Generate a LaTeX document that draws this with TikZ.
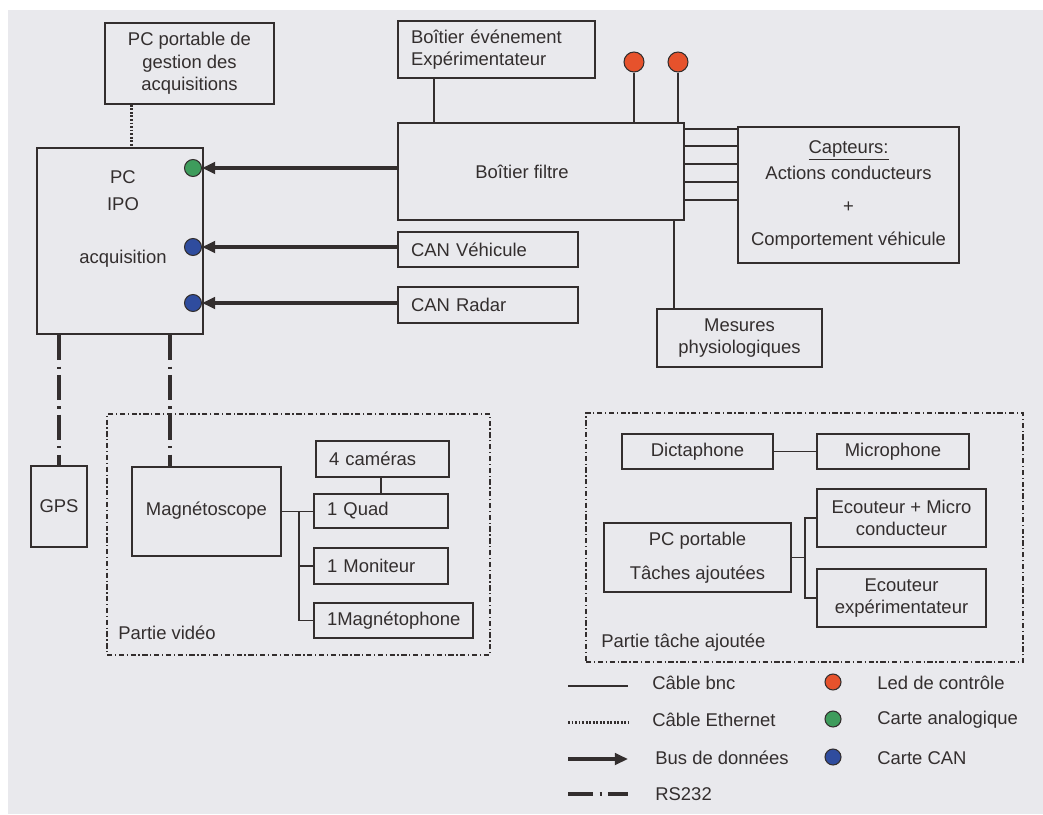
\documentclass[tikz,border=0pt]{standalone}
\usepackage{fontspec}
\setmainfont{Liberation Sans}
\usepackage{tikz}
\usetikzlibrary{arrows.meta,calc}

\definecolor{ink}{HTML}{332E2E}
\definecolor{paper}{HTML}{E9E9ED}
\definecolor{ledred}{HTML}{E6522C}
\definecolor{ledgreen}{HTML}{3E9C5C}
\definecolor{ledblue}{HTML}{2F4C9E}

\tikzset{
    box/.style={draw=ink, line width=1.1pt, align=center, text=ink, inner sep=0pt,
        font=\fontsize{10.5}{12.7}\selectfont},
    lbox/.style={box, align=left, inner xsep=0.26cm},
    txt/.style={text=ink, inner sep=0pt, font=\fontsize{10.5}{12.7}\selectfont},
    led/.style={circle, draw=ink, line width=0.6pt, minimum size=0.34cm, inner sep=0pt},
    bnc/.style={draw=ink, line width=1.1pt},
    eth/.style={draw=ink, line width=1.7pt, dash pattern=on 1.1pt off 0.9pt},
    bus/.style={draw=ink, line width=2.3pt, -{Triangle[length=7.5pt, width=6.5pt]}},
    rs/.style={draw=ink, line width=1.9pt, dash pattern=on 14.5pt off 3.5pt on 1.2pt off 3.5pt},
    frame/.style={draw=ink, line width=0.7pt, dash pattern=on 3pt off 1.5pt on 0.7pt off 1.5pt}
}

\begin{document}
\begin{tikzpicture}[x=0.02cm, y=-0.02cm]
                \fill[white] (0, 0) rectangle (1043, 814);
                \fill[paper] (8, 10) rectangle (1043, 814);
                \useasboundingbox (0, 0) rectangle (1043, 814);

                % acquisition
                \node[box, minimum width=3.38cm, minimum height=1.62cm] (A1) at (189.5, 63.5) {PC portable de\\gestion des\\acquisitions};
                \node[box, minimum width=3.32cm, minimum height=3.72cm] (A2) at (120, 241) {};
                \node[txt, align=center, font=\fontsize{10.5}{15.3}\selectfont] (A2t) at (123, 219) {PC\\IPO\\[15.3pt]acquisition};
                \node[lbox, text width=3.42cm, minimum height=1.14cm] (A3) at (496.5, 49.5) {Boîtier événement\\Expérimentateur};
                \node[box, minimum width=5.72cm, minimum height=1.94cm] (A4) at (541, 171.5) {Boîtier filtre\hspace*{0.76cm}};
                \node[box, minimum width=4.42cm, minimum height=2.72cm, font=\fontsize{10.5}{15.3}\selectfont] (A5) at (848.5, 195) {\underline{Capteurs:}\\Actions conducteurs\\[3.5pt]+\\[3.5pt]Comportement véhicule};
                \node[lbox, text width=3.08cm, minimum height=0.7cm] (A6) at (488, 249.5) {CAN Véhicule};
                \node[lbox, text width=3.08cm, minimum height=0.72cm] (A7) at (488, 305) {CAN Radar};
                \node[box, minimum width=3.3cm, minimum height=1.16cm] (A8) at (739.5, 338) {Mesures\\physiologiques};
                \node[box, minimum width=1.12cm, minimum height=1.62cm] (A9) at (59, 506.5) {GPS};

                \node[led, fill=ledred, minimum size=0.4cm] (D1) at (634, 62) {};
                \node[led, fill=ledred, minimum size=0.4cm] (D2) at (678, 62) {};
                \node[led, fill=ledgreen] (D3) at (193, 168) {};
                \node[led, fill=ledblue] (D4) at (193, 247) {};
                \node[led, fill=ledblue] (D5) at (193, 303) {};

                % partie video
                \node[frame, minimum width=7.66cm, minimum height=4.82cm] (V0) at (298.5, 534.5) {};
                \node[box, minimum width=2.98cm, minimum height=1.78cm] (V1) at (206.5, 511.5) {\raisebox{3pt}{Magnétoscope}};
                \node[lbox, text width=2.14cm, minimum height=0.72cm] (V2) at (382.5, 459) {4 caméras};
                \node[lbox, text width=2.16cm, minimum height=0.68cm] (V3) at (381, 511) {1 Quad};
                \node[lbox, text width=2.16cm, minimum height=0.72cm] (V4) at (381, 566) {1 Moniteur};
                \node[lbox, text width=2.66cm, minimum height=0.7cm] (V5) at (393.5, 620.5) {1Magnétophone};
                \node[txt, anchor=west] (V6) at (118, 633) {Partie vidéo};

                % partie tache ajoutee
                \node[frame, minimum width=8.74cm, minimum height=4.98cm] (T0) at (804.5, 537.5) {};
                \node[box, minimum width=3.02cm, minimum height=0.7cm] (T1) at (697.5, 451.5) {Dictaphone};
                \node[box, minimum width=3.04cm, minimum height=0.7cm] (T2) at (893, 451.5) {Microphone};
                \node[box, minimum width=3.74cm, minimum height=1.38cm] (T3) at (697.5, 557.5) {PC portable\\[6.5pt]Tâches ajoutées};
                \node[box, minimum width=3.38cm, minimum height=1.16cm] (T4) at (901.5, 518) {Ecouteur + Micro\\conducteur};
                \node[box, minimum width=3.38cm, minimum height=1.16cm] (T5) at (901.5, 598) {Ecouteur\\expérimentateur};
                \node[txt, anchor=west] (T6) at (601, 643) {Partie tâche ajoutée};

                % cables
                \coordinate (E1) at ($(A1.south west)+(27, 0)$);
                \coordinate (E2) at ($(A3.south west)+(37, 0)$);
                \coordinate (E4) at ($(A8.north west)+(18, 0)$);
                \coordinate (E5) at ($(V1.north west)+(39, 0)$);
                \draw[eth] (E1) -- (E1 |- A2.north);
                \draw[bnc] (E2) -- (E2 |- A4.north);
                \draw[bnc] (D1) -- (D1 |- A4.north);
                \draw[bnc] (D2) -- (D2 |- A4.north);
                \foreach \d in {7, 24, 42, 60, 78} {
                    \coordinate (E3) at ($(A4.north east)+(0, \d)$);
                    \draw[bnc] (E3) -- (E3 -| A5.west);
                }
                \draw[bnc] (E4 |- A4.south) -- (E4);

                \draw[bus] (D3 -| A4.west) -- (D3.east);
                \draw[bus] (D4 -| A6.west) -- (D4.east);
                \draw[bus] (D5 -| A7.west) -- (D5.east);

                \draw[rs] (A9.north |- A2.south) -- (A9.north);
                \draw[rs] (E5 |- A2.south) -- (E5);

                \coordinate (E6) at ($(V1.east)+(17, 0)$);
                \draw[bnc] (V1.east) -- (V1.east -| V3.west);
                \draw[bnc] (E6) |- (V4.west);
                \draw[bnc] (E6) |- (V5.west);
                \draw[bnc] (V3.north) -- (V3.north |- V2.south);

                \coordinate (E7) at ($(T3.east)+(13, 0)$);
                \draw[bnc] (T1.east) -- (T1.east -| T2.west);
                \draw[bnc] (T3.east) -- (E7);
                \draw[bnc] (E7) |- (T4.west);
                \draw[bnc] (E7) |- (T5.west);

                % legende
                \coordinate (L1) at (568, 686);
                \coordinate (L2) at (568, 722);
                \coordinate (L3) at (568, 759);
                \coordinate (L4) at (568, 794);
                \coordinate (M1) at (628, 686);
                \coordinate (M2) at (628, 722);
                \coordinate (M3) at (628, 759);
                \coordinate (M4) at (628, 794);
                \draw[bnc] (L1) -- (M1);
                \draw[eth] (L2) -- (M2);
                \draw[bus] (L3) -- (M3);
                \draw[rs] (L4) -- (M4);
                \node[txt, anchor=west] (L5) at (652, 683) {Câble bnc};
                \node[txt, anchor=west] (L6) at (652, 720) {Câble Ethernet};
                \node[txt, anchor=west] (L7) at (655, 758) {Bus de données};
                \node[txt, anchor=west] (L8) at (655, 794) {RS232};

                \node[led, fill=ledred, minimum size=0.32cm] (L9) at (833, 682) {};
                \node[led, fill=ledgreen, minimum size=0.32cm] (L10) at (833, 719) {};
                \node[led, fill=ledblue, minimum size=0.32cm] (L11) at (833, 757) {};
                \node[txt, anchor=west] (L12) at (877, 683) {Led de contrôle};
                \node[txt, anchor=west] (L13) at (877, 720) {Carte analogique};
                \node[txt, anchor=west] (L14) at (877, 758) {Carte CAN};

            \end{tikzpicture}
\end{document}
